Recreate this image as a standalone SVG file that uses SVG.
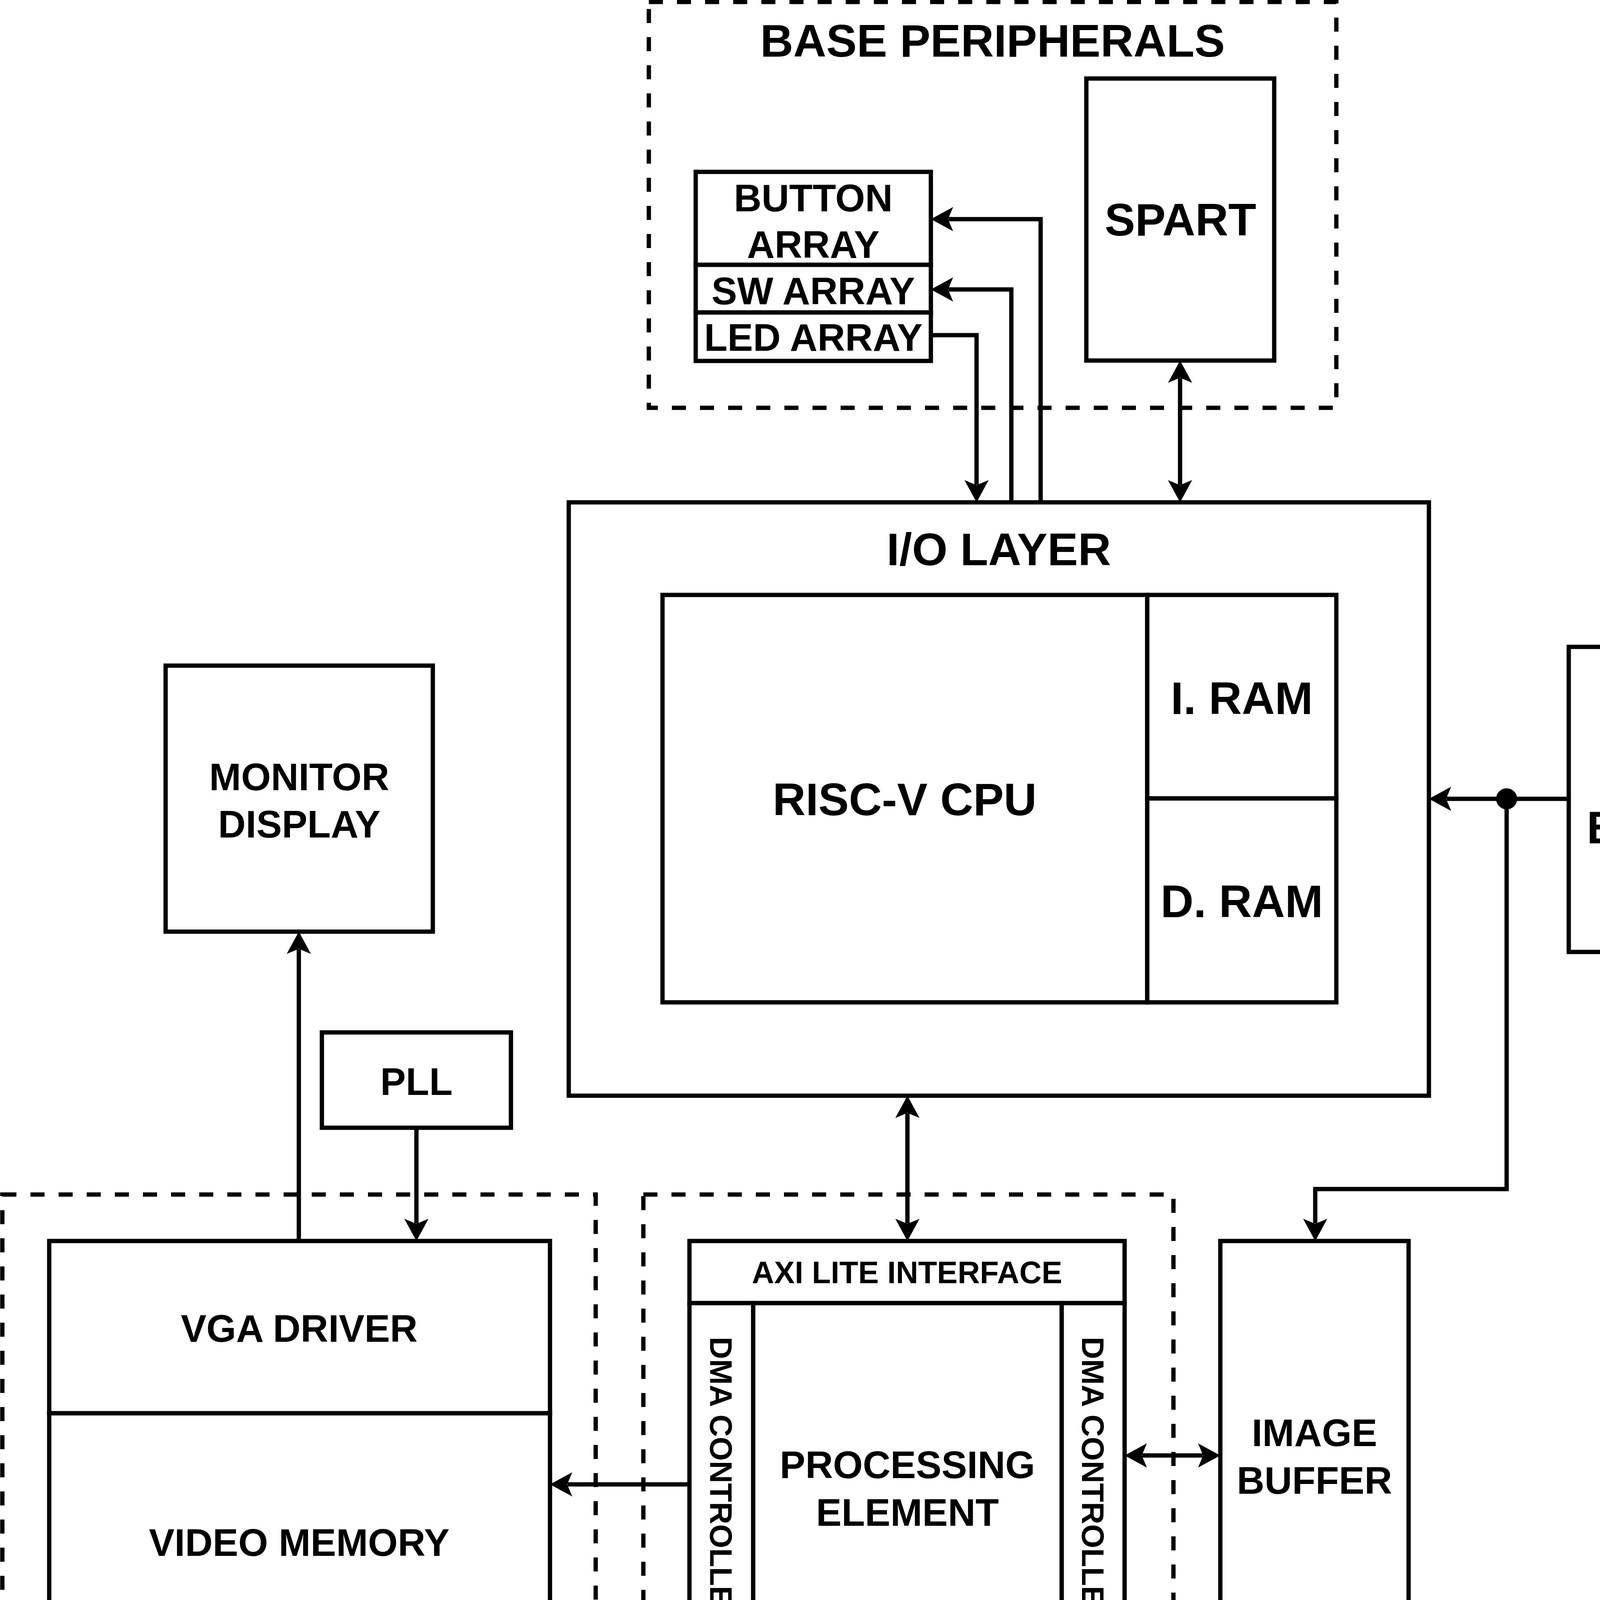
<svg xmlns="http://www.w3.org/2000/svg" width="4944" height="4464" viewBox="0 0 4944 4464">
<style>
.box{fill:#fff;stroke:#000;stroke-width:11}
.dash{fill:none;stroke:#000;stroke-width:11;stroke-dasharray:36 36}
.con{fill:none;stroke:#000;stroke-width:11;stroke-linejoin:miter}
text{font-family:"Liberation Sans",Arial,sans-serif;font-weight:bold;fill:#000;text-anchor:middle}
.l{font-size:117px}
.m{font-size:98px}
.s{font-size:79px}
</style>
<defs>
<marker id="ah" markerUnits="userSpaceOnUse" markerWidth="100" markerHeight="100" refX="0" refY="0" orient="auto-start-reverse" overflow="visible">
<path d="M45,0 L-12,-31 L1,0 L-12,31 Z" fill="#000" stroke="none"/>
</marker>
</defs>
<rect x="0" y="0" width="4944" height="4464" fill="#fff"/>

<g id="base-peripherals">
<rect class="dash" x="1661" y="5" width="1760" height="1039"/>
<text class="l" x="2541" y="145">BASE PERIPHERALS</text>
</g>
<g id="button-array">
<rect class="box" x="1781" y="440" width="602" height="238"/>
<text class="m" x="2082" y="541">BUTTON</text>
<text class="m" x="2082" y="660">ARRAY</text>
</g>
<g id="sw-array">
<rect class="box" x="1781" y="678" width="602" height="122"/>
<text class="m" x="2082" y="779">SW ARRAY</text>
</g>
<g id="led-array">
<rect class="box" x="1781" y="800" width="602" height="124"/>
<text class="m" x="2082" y="898">LED ARRAY</text>
</g>
<g id="spart">
<rect class="box" x="2781" y="201" width="481" height="722"/>
<text class="l" x="3022" y="603">SPART</text>
</g>

<g id="io-layer">
<rect class="box" x="1456" y="1286" width="2202" height="1519"/>
<text class="l" x="2557" y="1447">I/O LAYER</text>
</g>
<g id="risc-v-cpu">
<rect class="box" x="1696" y="1523" width="1241" height="1043"/>
<text class="l" x="2316" y="2087">RISC-V CPU</text>
</g>
<g id="i-ram">
<rect class="box" x="2937" y="1523" width="484" height="521"/>
<text class="l" x="3179" y="1828">I. RAM</text>
</g>
<g id="d-ram">
<rect class="box" x="2937" y="2044" width="484" height="522"/>
<text class="l" x="3179" y="2348">D. RAM</text>
</g>

<g id="uart-bootloader">
<rect class="box" x="4016" y="1656" width="921" height="781"/>
<text class="l" x="4478" y="2016">UART</text>
<text class="l" x="4478" y="2159">BOOTLOADER</text>
</g>

<g id="monitor-display">
<rect class="box" x="424" y="1704" width="684" height="681"/>
<text class="m" x="766" y="2023">MONITOR</text>
<text class="m" x="766" y="2144">DISPLAY</text>
</g>
<g id="pll">
<rect class="box" x="824" y="2643" width="484" height="244"/>
<text class="m" x="1066" y="2803">PLL</text>
</g>

<g id="vga">
<rect class="dash" x="6" y="3058" width="1519" height="1399"/>
<text class="l" x="763" y="4415">VGA</text>
</g>
<g id="vga-driver">
<rect class="box" x="126" y="3177" width="1282" height="441"/>
<text class="m" x="766" y="3435">VGA DRIVER</text>
</g>
<g id="video-memory">
<rect class="box" x="126" y="3618" width="1282" height="656"/>
<text class="m" x="766" y="3983">VIDEO MEMORY</text>
</g>

<g id="dsp-unit">
<rect class="dash" x="1647" y="3058" width="1357" height="1399"/>
<text class="l" x="2325" y="4415">DSP UNIT</text>
</g>
<g id="axi-lite-interface">
<rect class="box" x="1765" y="3177" width="1114" height="159"/>
<text class="s" x="2322" y="3285">AXI LITE INTERFACE</text>
</g>
<g id="processing-element">
<rect class="box" x="1928" y="3336" width="790" height="937"/>
<text class="m" x="2323" y="3784">PROCESSING</text>
<text class="m" x="2323" y="3906">ELEMENT</text>
</g>
<g id="dma-left">
<rect class="box" x="1765" y="3336" width="163" height="943"/>
<text class="s" transform="translate(1846,3796) rotate(90)" x="0" y="28">DMA CONTROLLER</text>
</g>
<g id="dma-right">
<rect class="box" x="2718" y="3336" width="161" height="943"/>
<text class="s" transform="translate(2798,3796) rotate(90)" x="0" y="28">DMA CONTROLLER</text>
</g>
<g id="image-buffer">
<rect class="box" x="3124" y="3177" width="482" height="1100"/>
<text class="m" x="3365" y="3702">IMAGE</text>
<text class="m" x="3365" y="3824">BUFFER</text>
</g>

<g id="connectors">
<path class="con" d="M2664,1286 V561 H2428" marker-end="url(#ah)"/>
<path class="con" d="M2589,1286 V741 H2428" marker-end="url(#ah)"/>
<path class="con" d="M2383,858 H2500 V1241" marker-end="url(#ah)"/>
<path class="con" d="M3021,968 V1241" marker-start="url(#ah)" marker-end="url(#ah)"/>
<path class="con" d="M4016,2045 H3703" marker-end="url(#ah)"/>
<path class="con" d="M3857,2045 V3044 H3367 V3132" marker-end="url(#ah)"/>
<circle cx="3857" cy="2045" r="27" fill="#000"/>
<path class="con" d="M2323,2850 V3132" marker-start="url(#ah)" marker-end="url(#ah)"/>
<path class="con" d="M1066,2887 V3132" marker-end="url(#ah)"/>
<path class="con" d="M765,3177 V2430" marker-end="url(#ah)"/>
<path class="con" d="M1765,3800 H1453" marker-end="url(#ah)"/>
<path class="con" d="M2924,3726 H3079" marker-start="url(#ah)" marker-end="url(#ah)"/>
</g>
</svg>
